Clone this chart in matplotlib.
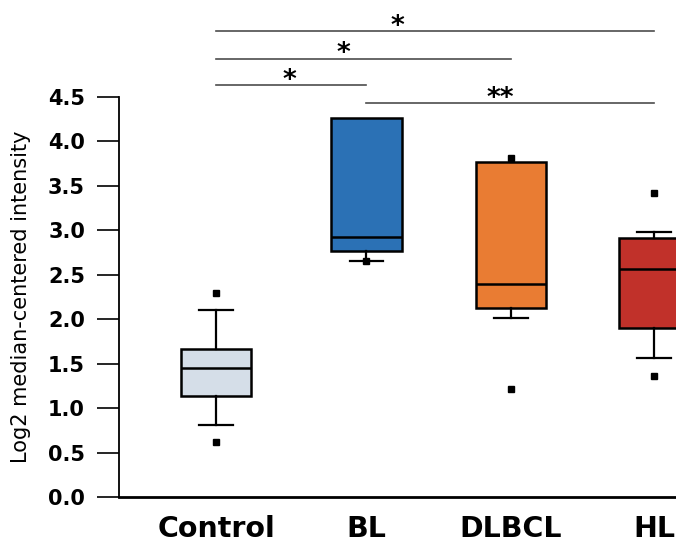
import matplotlib
matplotlib.use("Agg")
import matplotlib.pyplot as plt

# groups and box statistics
groups = ["Control", "BL", "DLBCL", "HL"]
colors = ["#d5dee8", "#2b71b5", "#e97c33", "#c1312a"]
q1 = [1.14, 2.77, 2.13, 1.90]
med = [1.45, 2.92, 2.40, 2.57]
q3 = [1.67, 4.26, 3.77, 2.91]
whislo = [0.81, 2.65, 2.01, 1.56]
whishi = [2.10, 4.26, 3.77, 2.98]
outliers = [[0.62, 2.29], [2.65], [1.21, 3.81], [1.36, 3.42]]

# significance brackets: (from group, to group, height, star x, label)
sig_lines = [
    (0, 3, 5.24, 1.24, "*"),
    (0, 2, 4.93, 0.87, "*"),
    (0, 1, 4.63, 0.50, "*"),
    (1, 3, 4.43, 1.945, "**"),
]

pos = [0, 1.03, 2.02, 3.0]

fig = plt.figure(figsize=(6.76, 5.49), dpi=100)
ax = fig.add_axes([0.176, 0.0947, 0.824, 0.7286])

stats = []
for i in range(len(groups)):
    stats.append({"q1": q1[i], "med": med[i], "q3": q3[i],
                  "whislo": whislo[i], "whishi": whishi[i],
                  "fliers": outliers[i], "label": groups[i]})

bp = ax.bxp(stats, positions=pos, widths=0.48,
            patch_artist=True, showfliers=True,
            boxprops=dict(linewidth=1.8, edgecolor="black"),
            medianprops=dict(color="black", linewidth=1.8),
            whiskerprops=dict(color="black", linewidth=1.6),
            capprops=dict(color="black", linewidth=1.6),
            capwidths=0.23,
            flierprops=dict(marker="s", markersize=4.5, markerfacecolor="black",
                            markeredgecolor="black"))
for patch, c in zip(bp["boxes"], colors):
    patch.set_facecolor(c)
# no upper cap where the whisker ends at the box
for i in range(len(groups)):
    if whishi[i] <= q3[i]:
        bp["caps"][2 * i + 1].set_visible(False)

ax.set_xlim(-0.665, 3.15)
ax.set_ylim(0, 4.5)
ax.set_yticks([0, 0.5, 1.0, 1.5, 2.0, 2.5, 3.0, 3.5, 4.0, 4.5])
ax.set_yticklabels(["0.0", "0.5", "1.0", "1.5", "2.0", "2.5", "3.0", "3.5", "4.0", "4.5"],
                   fontsize=15, fontweight="bold")
ax.tick_params(axis="y", length=16, width=1.2, pad=8.5)
ax.tick_params(axis="x", length=0, pad=13)
ax.set_xticks(pos)
ax.set_xticklabels(groups, fontsize=20.5, fontweight="bold")

ax.set_ylabel("Log2 median-centered intensity", fontsize=15)
ax.yaxis.set_label_coords(-0.158, 0.5)

ax.spines["top"].set_visible(False)
ax.spines["right"].set_visible(False)
ax.spines["left"].set_linewidth(1.3)
ax.spines["bottom"].set_linewidth(2)

for a, b, h, sx, lab in sig_lines:
    ax.plot([pos[a], pos[b]], [h, h], color="#4d4d4d", linewidth=1.2, clip_on=False)
    ax.text(sx, h - 0.03, lab, ha="center", va="baseline", fontsize=19,
            fontweight="bold", clip_on=False)

fig.savefig("out.png", dpi=100)
